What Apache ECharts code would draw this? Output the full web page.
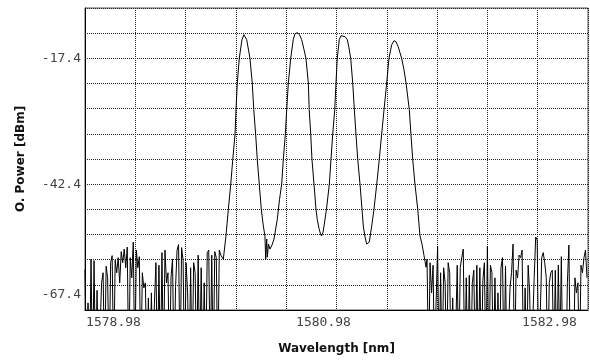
<!DOCTYPE html>
<html>
<head>
<meta charset="utf-8">
<script src="https://cdn.jsdelivr.net/npm/echarts@6/dist/echarts.min.js"></script>
<style>html,body{margin:0;padding:0;background:#fff}#c{width:590px;height:360px}</style>
</head>
<body>
<div id="c"></div>
<script>
// Axis span (start / stop wavelength, bottom / top power)
const wlStart = 1578.98, wlStop = 1582.98;
const pwBottom = -67.4, pwTop = -7.4;
const wlDiv = 0.4, pwDiv = 5;
const xTickLabels = [1578.98, 1580.98, 1582.98];
const yTickLabels = [-17.4, -42.4, -67.4];

// Noise floor samples (dBm), evenly sampled every noiseStep nm
const noiseStep = 0.012;
const leftNoiseStart = 1578.98;
const leftNoise = [-59.3,-80,-66,-80,-57.3,-80,-57.6,-80,-63.5,-80,
  -80,-62,-60,-80,-58.7,-61,-80,-58,-56.6,-80,
  -57.5,-60,-57,-62,-55.8,-58,-55.3,-59,-54.9,-80,
  -57,-61,-53.9,-80,-55.5,-59,-56.8,-80,-60,-63,
  -62,-80,-65,-80,-64,-80,-66,-58,-80,-58.5,
  -80,-56,-80,-55.5,-62,-60,-80,-61,-57.3,-80,
  -63,-55.5,-54.4,-80,-55,-57.5,-80,-58,-64,-80,
  -59,-80,-58,-60,-80,-56.5,-80,-59,-80,-62,
  -80,-56,-55.5,-80,-56.5,-80,-55.8,-57,-80,-55.5,-56.5];
const rightNoiseStart = 1581.70;
const rightNoise = [-57.3,-80,-58,-64,-58.5,-80,-66,-54.7,-80,-60,
  -80,-59,-62,-80,-58,-60,-80,-65,-80,-72,
  -58.5,-80,-59,-57,-55.3,-80,-61,-80,-60.5,-80,
  -62,-59.5,-80,-58.5,-80,-59,-80,-61.5,-58,-80,
  -54.7,-80,-58.5,-60,-80,-61,-80,-64,-80,-59,
  -57,-80,-58.7,-80,-80,-63,-60,-54.3,-80,-59.5,
  -61,-56.5,-57,-55.5,-80,-63,-80,-58.5,-64,-80,
  -80,-61,-52.9,-53.5,-80,-80,-57,-56,-58,-61,
  -80,-62,-60,-59.5,-80,-59.5,-80,-58.5,-77,-56.8,
  -80,-80,-80,-62,-54.5,-80,-80,-80,-61,-64,
  -62,-80,-58.5,-60,-57,-55.5,-61];

// Four-channel signal trace
const signalWl = [1580.080,1580.101,1580.120,1580.139,1580.155,1580.173,1580.181,1580.191,1580.207,1580.228,
  1580.244,1580.266,1580.292,1580.310,1580.322,1580.337,1580.350,1580.366,1580.382,1580.398,
  1580.411,1580.417,1580.425,1580.430,1580.439,1580.451,1580.467,1580.483,1580.509,1580.527,
  1580.544,1580.557,1580.573,1580.584,1580.597,1580.616,1580.636,1580.650,1580.668,1580.686,
  1580.703,1580.722,1580.737,1580.756,1580.763,1580.775,1580.785,1580.801,1580.817,1580.827,
  1580.841,1580.853,1580.861,1580.873,1580.881,1580.900,1580.923,1580.936,1580.950,1580.966,
  1580.976,1580.986,1581.002,1581.016,1581.029,1581.048,1581.066,1581.079,1581.093,1581.109,
  1581.122,1581.135,1581.149,1581.167,1581.183,1581.193,1581.207,1581.220,1581.231,1581.241,
  1581.260,1581.278,1581.300,1581.320,1581.339,1581.358,1581.379,1581.397,1581.419,1581.437,
  1581.453,1581.471,1581.498,1581.517,1581.533,1581.559,1581.572,1581.586,1581.604,1581.626,
  1581.644,1581.660,1581.676,1581.692];
const signalPw = [-57.3,-52.7,-47.4,-42.4,-37.5,-32.5,-27.6,-22.3,-17.4,-13.7,
  -12.7,-13.7,-17.4,-22.3,-27.6,-32.5,-37.5,-42.4,-47.4,-50.7,
  -52.7,-57.3,-53.3,-56.9,-54.3,-55.3,-54.5,-53.3,-49.4,-45.4,
  -42.4,-37.5,-32.5,-27.6,-22.3,-17.4,-13.7,-12.5,-12.3,-12.7,
  -13.7,-15.7,-17.4,-22.3,-27.6,-32.5,-37.5,-42.4,-47.4,-49.4,
  -51.2,-52.3,-52.7,-51.95,-50.7,-47.4,-42.4,-37.5,-32.5,-27.6,
  -22.3,-17.4,-13.7,-12.9,-12.7,-13.1,-13.7,-15.3,-17.4,-22.3,
  -27.6,-32.5,-37.5,-42.4,-47.4,-50.7,-52.9,-54.3,-54.5,-53.9,
  -50.7,-47.4,-42.4,-37.5,-32.5,-27.6,-22.3,-17.4,-14.7,-13.9,
  -14.1,-15.1,-17.4,-19.7,-22.3,-27.6,-32.5,-37.5,-42.4,-47.4,
  -52.7,-54.3,-56.6,-58.9];

// Build trace as offsets from the axis origin (so grid divisions start at 0)
const trace = [];
leftNoise.forEach((p, i) => trace.push([leftNoiseStart + i * noiseStep - wlStart, p - pwBottom]));
signalWl.forEach((w, i) => trace.push([w - wlStart, signalPw[i] - pwBottom]));
rightNoise.forEach((p, i) => trace.push([rightNoiseStart + i * noiseStep - wlStart, p - pwBottom]));

const mono = '"DejaVu Sans Mono", monospace';
const near = (a, b) => Math.abs(a - b) < 1e-6;

const chart = echarts.init(document.getElementById('c'), null, {renderer: 'canvas'});
chart.setOption({
  animation: false,
  backgroundColor: '#fff',
  grid: {left: 85, right: 2, top: 8, bottom: 49, show: true, borderColor: '#555', borderWidth: 1},
  xAxis: {
    type: 'value', min: 0, max: wlStop - wlStart, interval: wlDiv,
    name: 'Wavelength [nm]', nameLocation: 'middle', nameGap: 33,
    nameTextStyle: {fontFamily: '"DejaVu Sans", sans-serif', fontWeight: 'bold', fontSize: 12, color: '#111'},
    axisLine: {show: true, onZero: false, lineStyle: {color: '#000', width: 1}},
    axisTick: {show: false},
    splitLine: {show: true, lineStyle: {color: '#222', width: 1, type: [1, 1]}},
    axisLabel: {
      showMinLabel: true, showMaxLabel: true, margin: 6,
      formatter: v => {
        const w = v + wlStart;
        if (near(w, xTickLabels[0])) return '{l|' + xTickLabels[0].toFixed(2) + '}';
        if (near(w, xTickLabels[1])) return '{c|' + xTickLabels[1].toFixed(2) + '}';
        if (near(w, xTickLabels[2])) return '{r|' + xTickLabels[2].toFixed(2) + '}';
        return '';
      },
      rich: {
        l: {fontFamily: mono, fontSize: 13, color: '#444', padding: [0, 0, 0, 57]},
        c: {fontFamily: mono, fontSize: 13, color: '#444', padding: [0, 26, 0, 0]},
        r: {fontFamily: mono, fontSize: 13, color: '#444', padding: [0, 77, 0, 0]}
      }
    }
  },
  yAxis: {
    type: 'value', min: 0, max: pwTop - pwBottom, interval: pwDiv,
    name: 'O. Power [dBm]', nameLocation: 'middle', nameGap: 58,
    nameTextStyle: {fontFamily: '"DejaVu Sans", sans-serif', fontWeight: 'bold', fontSize: 12, color: '#111'},
    axisLine: {show: true, onZero: false, lineStyle: {color: '#000', width: 1}},
    axisTick: {show: false},
    splitLine: {show: true, lineStyle: {color: '#222', width: 1, type: [1, 1]}},
    axisLabel: {
      showMinLabel: true, showMaxLabel: true, margin: 4,
      formatter: v => {
        const p = v + pwBottom;
        if (near(p, yTickLabels[2])) return '{b|' + yTickLabels[2].toFixed(1) + '}';
        for (const t of yTickLabels) if (near(p, t)) return '{a|' + t.toFixed(1) + '}';
        return '';
      },
      rich: {
        a: {fontFamily: mono, fontSize: 13, color: '#444'},
        b: {fontFamily: mono, fontSize: 13, color: '#444', padding: [0, 0, 30, 0]}
      }
    }
  },
  series: [{
    type: 'line', data: trace, showSymbol: false, symbol: 'none', clip: true,
    lineStyle: {color: '#000', width: 1}
  }]
});
</script>
</body>
</html>
